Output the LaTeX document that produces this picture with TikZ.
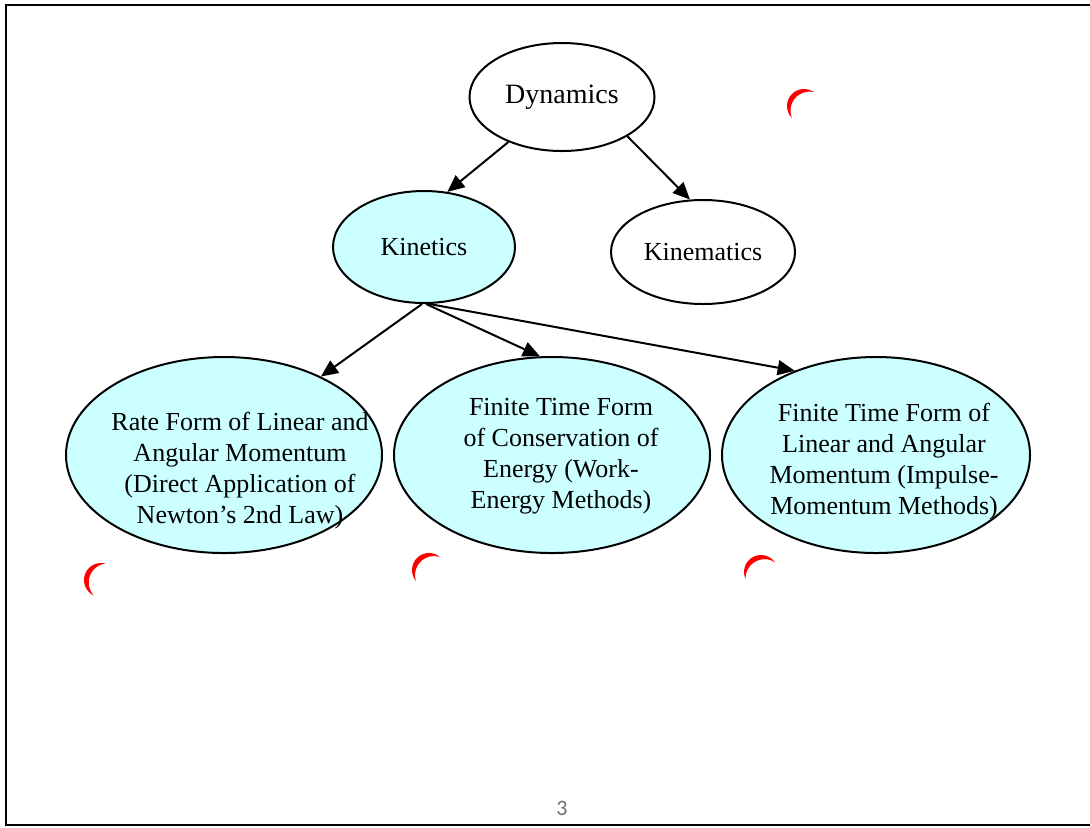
\documentclass[tikz,border=0pt]{standalone}
\usepackage{fontspec}
\setmainfont{Liberation Serif}
\newfontfamily\pagefont{Carlito}
\usepackage{tikz}
\usetikzlibrary{shapes.geometric,arrows.meta}
\definecolor{palecyan}{RGB}{204,255,255}
\definecolor{pagegray}{RGB}{110,110,125}
\tikzset{bubble/.style={ellipse, draw, line width=1pt, inner sep=0pt,
  font=\fontsize{13}{15.5}\selectfont}}
\tikzset{cyanbubble/.style={bubble, fill=palecyan}}
\tikzset{words/.style={align=center, inner sep=0pt,
  font=\fontsize{13}{15.5}\selectfont}}
\tikzset{tip/.style={line width=1pt, -{Triangle[length=8.5pt,width=7.5pt]}}}
% red crescent marks: centre x, centre y, opening angle
\newcommand{\redmark}[3]{%
  \fill[red] ([shift={(#3+95:17)}]#1,#2)
    arc[start angle=#3+95, end angle=#3+265, radius=17]
    arc[start angle=#3+243.2, end angle=#3+116.8, radius=18.97] -- cycle;}

\begin{document}
\begin{tikzpicture}[x=0.5pt, y=-0.5pt]
\useasboundingbox (0,0) rectangle (1090,827);

% frame
\draw[line width=1pt] (1090,5) -- (6,5) -- (6,825) -- (1090,825);

\node[bubble, minimum width=92.5pt, minimum height=54pt, font=\fontsize{14}{16}\selectfont] (dyn) at (562,97) {Dynamics};
\node[cyanbubble, minimum width=91pt, minimum height=56pt] (kin) at (424,247) {Kinetics};
\node[bubble, minimum width=92pt, minimum height=52pt] (kmt) at (703,252) {Kinematics};

\node[cyanbubble, minimum width=158pt, minimum height=98pt] (rate) at (224,455) {};
\node[cyanbubble, minimum width=158pt, minimum height=98pt] (work) at (552,455) {};
\node[cyanbubble, minimum width=154pt, minimum height=98pt] (imp) at (876,455) {};

\node[words] (rate-txt) at (240,471) {Rate Form of Linear and\\Angular Momentum\\(Direct Application of\\Newton’s 2nd Law)};
\node[words] (work-txt) at (561,456) {Finite Time Form\\of Conservation of\\Energy (Work-\\Energy Methods)};
\node[words] (imp-txt) at (884,462) {Finite Time Form of\\Linear and Angular\\Momentum (Impulse-\\Momentum Methods)};

\draw[tip] (dyn.-140) -- (kin.67);
\draw[tip] (dyn.-31) -- (kmt.104);
\draw[tip] (kin.-92) -- (rate.39);
\draw[tip] (kin.-88) -- (work.97);
\draw[tip] (kin.-85) -- (imp.134);

\redmark{804}{106}{40}
\redmark{101}{580}{20}
\redmark{429}{570}{45}
\redmark{761}{572}{60}

\node[text=pagegray, font=\pagefont\fontsize{11}{13}\selectfont] (pgno) at (562,808) {3};
\end{tikzpicture}
\end{document}
